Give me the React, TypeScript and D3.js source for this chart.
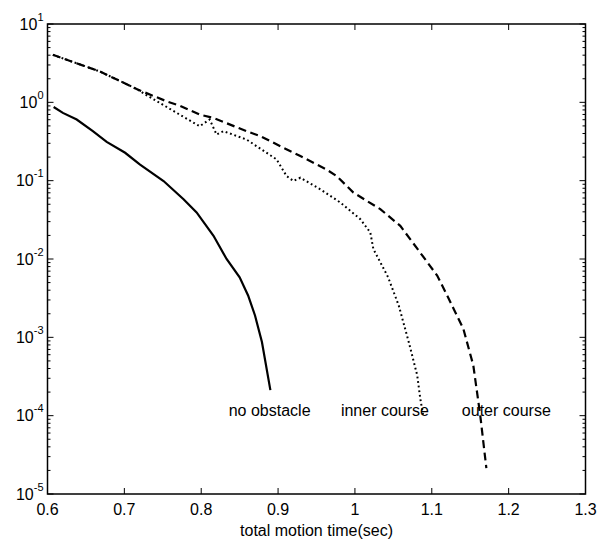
import React, { useEffect, useRef } from 'react';
import * as d3 from 'd3';

// total motion time (sec) vs probability
const noObstacleX = [0.608, 0.62, 0.638, 0.659, 0.677, 0.701, 0.72, 0.751, 0.777, 0.794, 0.816, 0.833, 0.85, 0.861, 0.87, 0.879, 0.89];
const noObstacleY = [0.873, 0.733, 0.603, 0.428, 0.313, 0.227, 0.161, 0.0989, 0.0579, 0.0393, 0.0198, 0.01, 0.00585, 0.00342, 0.0019, 0.000873, 0.000212];

const innerX = [0.607, 0.668, 0.718, 0.725, 0.772, 0.798, 0.811, 0.82, 0.829, 0.859, 0.898, 0.911, 0.92, 0.929, 0.955, 0.981, 1.007, 1.02, 1.024, 1.043, 1.057, 1.07, 1.081, 1.085, 1.089];
const innerY = [4.04, 2.48, 1.45, 1.3, 0.697, 0.495, 0.603, 0.388, 0.428, 0.335, 0.187, 0.115, 0.0989, 0.109, 0.0776, 0.0526, 0.0323, 0.0218, 0.0134, 0.0059, 0.00255, 0.000873, 0.000329, 0.000166, 0.0000973];

const outerX = [0.607, 0.668, 0.718, 0.755, 0.772, 0.798, 0.816, 0.859, 0.877, 0.903, 0.929, 0.963, 0.976, 0.998, 1.033, 1.059, 1.083, 1.107, 1.12, 1.141, 1.154, 1.163, 1.171];
const outerY = [4.04, 2.48, 1.45, 1.03, 0.908, 0.697, 0.632, 0.428, 0.37, 0.275, 0.206, 0.139, 0.115, 0.0705, 0.0433, 0.0265, 0.0128, 0.00614, 0.00342, 0.00129, 0.00044, 0.000102, 0.0000214];

const xTicks = [0.6, 0.7, 0.8, 0.9, 1, 1.1, 1.2, 1.3];
const yExponents = [1, 0, -1, -2, -3, -4, -5];

const labelNames = ['no obstacle', 'inner course', 'outer course'];
const labelX = [0.889, 1.039, 1.197];
const labelY = [1e-4, 1e-4, 1e-4];

const FONT = '"Liberation Sans", Arial, sans-serif';

export default function App() {
  const svgRef = useRef<SVGSVGElement>(null);

  useEffect(() => {
    const width = 597;
    const height = 541;
    const margin = { top: 24, right: 11.5, bottom: 47, left: 47.5 };

    const svg = d3.select(svgRef.current).attr('width', width).attr('height', height);
    svg.selectAll('*').remove();

    const x = d3.scaleLinear().domain([0.6, 1.3]).range([margin.left, width - margin.right]);
    const y = d3.scaleLog().domain([1e-5, 10]).range([height - margin.bottom, margin.top]);

    const [x0, x1] = x.range();
    const [y0, y1] = y.range(); // y0 bottom, y1 top

    // ticks
    const ticks = svg.append('g').attr('stroke', '#000').attr('stroke-width', 1);
    xTicks.forEach((t) => {
      const px = x(t);
      ticks.append('line').attr('x1', px).attr('x2', px).attr('y1', y0).attr('y2', y0 - 6);
      ticks.append('line').attr('x1', px).attr('x2', px).attr('y1', y1).attr('y2', y1 + 6);
    });
    yExponents.forEach((e) => {
      const py = y(Math.pow(10, e));
      ticks.append('line').attr('x1', x0).attr('x2', x0 + 6).attr('y1', py).attr('y2', py);
      ticks.append('line').attr('x1', x1).attr('x2', x1 - 6).attr('y1', py).attr('y2', py);
      if (e > -5) {
        for (let m = 2; m <= 9; m++) {
          const v = m * Math.pow(10, e - 1);
          const pm = y(v);
          ticks.append('line').attr('x1', x0).attr('x2', x0 + 3).attr('y1', pm).attr('y2', pm);
          ticks.append('line').attr('x1', x1).attr('x2', x1 - 3).attr('y1', pm).attr('y2', pm);
        }
      }
    });

    // tick labels
    svg
      .append('g')
      .selectAll('text')
      .data(xTicks)
      .join('text')
      .attr('x', (d) => x(d))
      .attr('y', y0 + 21)
      .attr('text-anchor', 'middle')
      .attr('font-family', FONT)
      .attr('font-size', 16)
      .text((d) => String(d));

    const yl = svg
      .append('g')
      .selectAll('text')
      .data(yExponents)
      .join('text')
      .attr('x', x0 - 4)
      .attr('y', (d) => y(Math.pow(10, d)) + 5.5)
      .attr('text-anchor', 'end')
      .attr('font-family', FONT)
      .attr('font-size', 16);
    yl.append('tspan').text('10');
    yl.append('tspan').attr('font-size', 11).attr('dy', -9).text((d) => String(d));

    // lines
    const line = d3
      .line<[number, number]>()
      .x((d) => x(d[0]))
      .y((d) => y(d[1]));

    const zip = (xs: number[], ys: number[]) => xs.map((v, i) => [v, ys[i]] as [number, number]);

    const lines = svg.append('g').attr('fill', 'none').attr('stroke', '#000');
    lines
      .append('path')
      .attr('d', line(zip(innerX, innerY)))
      .attr('stroke-width', 2)
      .attr('stroke-dasharray', '1.8,2.8');
    lines
      .append('path')
      .attr('d', line(zip(outerX, outerY)))
      .attr('stroke-width', 2.2)
      .attr('stroke-dasharray', '8,4.5');
    lines
      .append('path')
      .attr('d', line(zip(noObstacleX, noObstacleY)))
      .attr('stroke-width', 2.2);

    // frame
    svg
      .append('rect')
      .attr('x', x0)
      .attr('y', y1)
      .attr('width', x1 - x0)
      .attr('height', y0 - y1)
      .attr('fill', 'none')
      .attr('stroke', '#000')
      .attr('stroke-width', 1.5);

    // curve labels
    svg
      .append('g')
      .selectAll('text')
      .data(labelNames)
      .join('text')
      .attr('x', (_, i) => x(labelX[i]))
      .attr('y', (_, i) => y(labelY[i]))
      .attr('text-anchor', 'middle')
      .attr('font-family', FONT)
      .attr('font-size', 16)
      .text((d) => d);

    // axis label
    svg
      .append('text')
      .attr('x', (x0 + x1) / 2)
      .attr('y', 536)
      .attr('text-anchor', 'middle')
      .attr('font-family', FONT)
      .attr('font-size', 16)
      .text('total motion time(sec)');
  }, []);

  return (
    <svg
      ref={svgRef}
      style={{ position: 'absolute', left: 0, top: 0, background: '#fff', display: 'block' }}
    />
  );
}
